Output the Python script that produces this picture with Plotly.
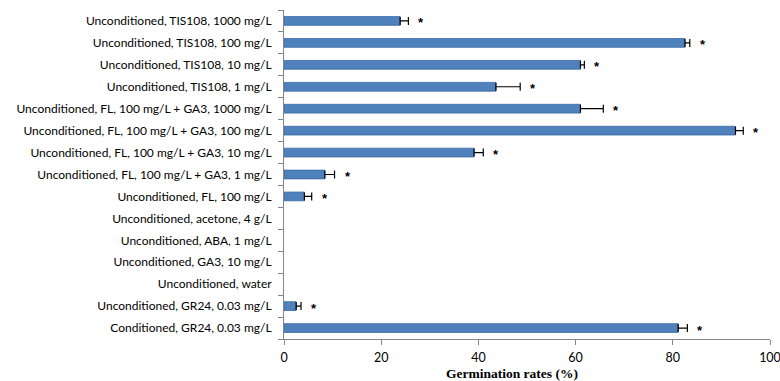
import plotly.graph_objects as go

# Treatments, listed bottom to top
treatments = [
    "Conditioned, GR24, 0.03 mg/L",
    "Unconditioned, GR24, 0.03 mg/L",
    "Unconditioned, water",
    "Unconditioned, GA3, 10 mg/L",
    "Unconditioned, ABA, 1 mg/L",
    "Unconditioned, acetone, 4 g/L",
    "Unconditioned, FL, 100 mg/L",
    "Unconditioned, FL, 100 mg/L + GA3, 1 mg/L",
    "Unconditioned, FL, 100 mg/L + GA3, 10 mg/L",
    "Unconditioned, FL, 100 mg/L + GA3, 100 mg/L",
    "Unconditioned, FL, 100 mg/L + GA3, 1000 mg/L",
    "Unconditioned, TIS108, 1 mg/L",
    "Unconditioned, TIS108, 10 mg/L",
    "Unconditioned, TIS108, 100 mg/L",
    "Unconditioned, TIS108, 1000 mg/L",
]
germination = [81.1, 2.5, 0, 0, 0, 0, 4.2, 8.4, 39.1, 92.9, 61.0, 43.6, 61.0, 82.5, 23.9]
std_error = [1.9, 1.0, 0, 0, 0, 0, 1.5, 2.0, 1.9, 1.6, 4.7, 5.0, 0.8, 1.0, 1.7]
significant = [True, True, False, False, False, False, True, True, True, True, True, True, True, True, True]

# Zero rates draw nothing (no sliver, no error cap)
bar_x = [v if v > 0 else None for v in germination]

fig = go.Figure()
fig.add_trace(go.Bar(
    y=treatments,
    x=bar_x,
    orientation="h",
    marker=dict(color="#4F81BD", line=dict(color="#3A6AA6", width=0.8)),
    width=0.4,
    error_x=dict(type="data", array=std_error, arrayminus=[0] * len(std_error),
                 symmetric=False, color="black", thickness=1.2, width=4),
    hoverinfo="x+y",
))

# Significance markers just past each error bar
for t, v, e, s in zip(treatments, germination, std_error, significant):
    if s:
        fig.add_annotation(x=v + e, y=t, text="<b>*</b>", showarrow=False,
                           xanchor="center", xshift=13, yshift=-2,
                           font=dict(family="Liberation Sans", size=13, color="black"))

# Axis title placed below the tick labels
fig.add_annotation(x=0.5, y=0, xref="paper", yref="paper", yanchor="top",
                   xshift=-15, yshift=-25, showarrow=False,
                   text="<b>Germination rates (%)</b>",
                   font=dict(family="Liberation Serif", size=13.5, color="black"))

fig.update_layout(
    width=780, height=381,
    margin=dict(l=284, r=10, t=10, b=42),
    paper_bgcolor="white", plot_bgcolor="white",
    showlegend=False,
    bargap=0.6,
    xaxis=dict(
        range=[0, 100], dtick=20, automargin=False,
        showgrid=False, zeroline=False,
        showline=True, linecolor="#868686", linewidth=1,
        ticks="outside", ticklen=5, tickcolor="#868686",
        ticklabelstandoff=2, ticklabeloverflow="allow",
        tickfont=dict(family="Lato", size=12.5, color="black"),
    ),
    yaxis=dict(
        type="category", categoryorder="array", categoryarray=treatments,
        automargin=False,
        showgrid=False, zeroline=False,
        showline=True, linecolor="#868686", linewidth=1,
        ticks="outside", ticklen=5, tickcolor="#868686", tickson="boundaries",
        ticklabelstandoff=9,
        tickfont=dict(family="Lato", size=12, color="black"),
        range=[-0.5, 14.5],
    ),
)

fig.write_html("out.html")
